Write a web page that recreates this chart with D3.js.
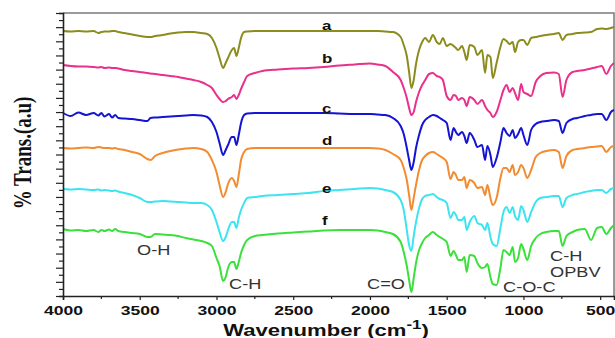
<!DOCTYPE html>
<html>
<head>
<meta charset="utf-8">
<script src="https://cdn.jsdelivr.net/npm/d3@7"></script>
<style>
  html, body { margin: 0; padding: 0; background: #fff; }
  svg { display: block; }
</style>
</head>
<body>
<svg id="chart" width="615" height="338"></svg>
<script>
// shared wavenumber grid (cm-1), high to low
const wavenumbers = [
  4000, 3950, 3900, 3850, 3800, 3770, 3750, 3730, 3700, 3680,
  3660, 3640, 3600, 3550, 3500, 3450, 3430, 3400, 3350, 3300,
  3250, 3200, 3150, 3100, 3060, 3030, 3000, 2980, 2957, 2940,
  2925, 2900, 2885, 2870, 2855, 2840, 2820, 2800, 2750, 2700,
  2600, 2500, 2400, 2300, 2200, 2100, 2000, 1950, 1900, 1850,
  1800, 1780, 1760, 1745, 1730, 1715, 1700, 1680, 1660, 1640,
  1615, 1590, 1565, 1545, 1525, 1500, 1475, 1455, 1440, 1425,
  1400, 1385, 1370, 1350, 1320, 1300, 1270, 1250, 1235, 1215,
  1200, 1175, 1150, 1130, 1110, 1090, 1070, 1055, 1035, 1015,
  1000, 975, 950, 920, 890, 850, 800, 770, 745, 720,
  680, 650, 600, 560, 520, 490, 460, 430, 410
];

// % transmittance, arbitrary units (stacked, offset traces)
const traceA = [
  265, 264.5, 265, 264.5, 265, 263, 264, 264.5, 264.5, 265,
  265, 264, 263, 261.5, 260, 259, 259, 260, 261, 262.5,
  263.5, 264, 264, 263, 262, 258, 248, 238, 228, 233,
  238, 246, 248, 240, 248, 258, 264, 264.5, 265, 265,
  265, 265, 265, 265, 265, 265, 265, 265, 264.5, 264,
  259, 251, 240, 224, 208, 216, 232, 246, 254, 258,
  254, 261, 254, 252, 258, 250, 252, 250, 248, 246,
  250, 244, 236, 251, 249, 241, 246, 223, 241, 239,
  218, 233, 249, 257, 255, 252, 254, 244, 254, 256,
  256, 251, 258, 259, 260, 261, 262, 263, 256, 261,
  262, 263, 263.5, 264, 267, 267.5, 267, 268, 269
];
const traceB = [
  231, 230, 229.5, 229.5, 229, 228.5, 229, 228, 228.5, 228,
  228, 227.5, 226, 225, 224, 223, 222.5, 222, 221, 220,
  219, 217.5, 216, 214, 211, 208, 201, 197, 194, 195,
  197, 199, 201, 197, 201, 207, 214, 220, 223, 225,
  226.5, 227.5, 228, 229, 230.5, 231.5, 232.5, 231.5, 230, 224,
  216, 208, 198, 188, 181, 184, 194, 204, 211, 216,
  222, 223, 220, 219, 216, 200, 196, 201, 200, 196,
  198, 196, 190, 199, 196, 192, 196, 190, 186, 183,
  179, 184, 196, 206, 211, 204, 208, 203, 196, 212,
  204, 202, 200, 214, 220, 223, 223.5, 222, 199, 216,
  224, 225, 226, 227.5, 229, 230, 222, 230, 233
];
const traceC = [
  183, 180, 183.5, 181, 183, 180.5, 183, 179.5, 182, 178.5,
  181, 178, 177.5, 177, 176, 175, 178, 178.5, 179, 179.5,
  180, 180.5, 181, 180.5, 179, 174, 164, 153, 141, 146,
  151, 159, 159, 151, 161, 173, 181, 182.5, 183, 183,
  183, 183, 183, 183, 182.5, 182, 182, 181.5, 181, 178,
  170, 162, 148, 136, 126, 134, 148, 161, 171, 176,
  179, 181, 180, 178, 176, 173, 156, 168, 164, 161,
  164, 160, 153, 163, 156, 149, 151, 136, 150, 141,
  129, 138, 154, 168, 163, 160, 166, 158, 162, 168,
  161, 151, 166, 172, 174, 175, 176, 175, 163, 173,
  177, 178, 180, 181, 182, 182, 176, 184, 186
];
const traceD = [
  148, 147.5, 148, 148.5, 148, 149, 148.5, 148, 148, 147.5,
  148, 147, 146, 144, 142, 137, 136, 140, 143, 145,
  146.5, 147.5, 148, 147, 144, 136, 124, 111, 99, 104,
  112, 118, 115, 109, 121, 136, 144, 147, 148, 148,
  148, 148, 148, 148, 148, 148, 148, 147.5, 146, 142,
  136, 128, 116, 101, 86, 98, 111, 126, 136, 140,
  143, 144, 142, 140, 138, 134, 117, 124, 121, 116,
  116, 119, 108, 116, 113, 108, 109, 101, 111, 98,
  91, 98, 118, 128, 128, 124, 131, 121, 124, 131,
  128, 118, 126, 139, 143, 145, 146, 144, 128, 140,
  146, 147, 148, 149, 149.5, 150, 144, 149, 150
];
const traceE = [
  107, 106.5, 107, 106.5, 106, 106.5, 105.5, 106, 105.5, 105,
  105.5, 104.5, 103, 101, 98, 94, 94, 94.5, 95, 94.5,
  94, 93.5, 93, 93, 91, 86, 74, 64, 55, 59,
  66, 74, 74, 68, 78, 86, 93, 98, 99, 100,
  101, 102, 103, 105, 106, 107, 108, 107.5, 106, 104,
  96, 86, 66, 51, 45, 60, 74, 88, 97, 100,
  101, 102, 99, 97, 96, 93, 78, 84, 81, 76,
  76, 79, 66, 74, 80, 73, 71, 66, 73, 59,
  52, 50, 68, 84, 89, 83, 89, 80, 76, 90,
  86, 74, 84, 94, 98, 99, 100, 100, 89, 98,
  101, 102, 104, 105, 106, 106, 103, 107, 108
];
const traceF = [
  67, 65.5, 66, 65, 66, 64, 66, 65, 66.5, 65,
  67, 65, 64, 63, 62, 59, 59, 62, 61.5, 61,
  60, 58, 56.5, 55, 53, 50, 38, 30, 15, 19,
  28, 34, 34, 27, 34, 43, 51, 56, 60, 61,
  62.5, 63.5, 64.5, 65.5, 66, 66, 66, 65.5, 64, 62,
  54, 44, 30, 16, 4, 18, 33, 46, 53, 58,
  61, 64, 61, 59, 57, 54, 40, 45, 41, 36,
  36, 39, 24, 41, 40, 33, 28, 29, 32, 19,
  12, 11, 28, 46, 44, 41, 49, 34, 38, 52,
  47, 36, 50, 58, 62, 64, 65, 65, 50, 60,
  64, 66, 67, 56, 68, 69, 62, 68, 71
];

const traceNames = ['a', 'b', 'c', 'd', 'e', 'f'];
const traceColors = ['#8c8c1e', '#e8308c', '#1414d2', '#f28c32', '#3ce4f0', '#3ce03c'];
const traceValues = [traceA, traceB, traceC, traceD, traceE, traceF];

const xMajorTicks = [4000, 3500, 3000, 2500, 2000, 1500, 1000, 500];
const xMinorTicks = [3750, 3250, 2750, 2250, 1750, 1250, 750];

const annotations = [
  { text: 'O-H', x: 137, y: 255 },
  { text: 'C-H', x: 229, y: 289 },
  { text: 'C=O', x: 367, y: 289 },
  { text: 'C-O-C', x: 503, y: 292 },
  { text: 'C-H', x: 550, y: 261 },
  { text: 'OPBV', x: 550, y: 277 }
];
const labelBaselines = [30, 63, 113, 145, 193, 225];

const plotLeft = 63, plotRight = 614, plotTop = 13, plotBottom = 296;
const STRETCH = 1.3; // picture is wider than its glyphs

const svg = d3.select('#chart');

const x = d3.scaleLinear().domain([4000, 410]).range([plotLeft, plotRight]);
const y = d3.scaleLinear().domain([0, 283]).range([plotBottom, plotTop]);

// frame (top and right)
svg.append('path')
  .attr('d', `M${plotLeft},${plotTop}H${plotRight}V${plotBottom}`)
  .attr('fill', 'none')
  .attr('stroke', '#7a7a7a')
  .attr('stroke-width', 1.5);

// traces
const line = d3.line()
  .x(d => x(d[0]))
  .y(d => y(d[1]))
  .curve(d3.curveMonotoneX);

traceValues.forEach((vals, i) => {
  const pts = wavenumbers.map((w, j) => [w, vals[j]]);
  svg.append('path')
    .datum(pts)
    .attr('fill', 'none')
    .attr('stroke', traceColors[i])
    .attr('stroke-width', 2)
    .attr('stroke-linejoin', 'round')
    .attr('d', line);
});

// y axis: unlabeled ticks
const yTicks = d3.range(0, 41).map(i => i * 283 / 40);
const yAxis = svg.append('g')
  .attr('transform', `translate(${plotLeft},0)`)
  .call(d3.axisLeft(y).tickValues(yTicks).tickSize(4).tickFormat(''));
yAxis.selectAll('.tick line')
  .attr('x2', (d, i) => i % 2 === 0 ? -7 : -4)
  .attr('stroke', '#222')
  .attr('stroke-width', 1.2);
yAxis.select('.domain').attr('stroke', '#222').attr('stroke-width', 1.6);

// x axis
const xAxis = svg.append('g')
  .attr('transform', `translate(0,${plotBottom})`)
  .call(d3.axisBottom(x).tickValues(xMajorTicks).tickSize(4).tickPadding(5).tickFormat(d3.format('d')));
xAxis.select('.domain').attr('stroke', '#222').attr('stroke-width', 1.6);
xAxis.selectAll('.tick line').attr('stroke', '#222').attr('stroke-width', 1.2);
xAxis.selectAll('.tick text')
  .attr('fill', '#111')
  .style('font-family', 'Liberation Sans, Arial, sans-serif')
  .style('font-weight', 'bold')
  .style('font-size', '13.5px')
  .attr('transform', `scale(${STRETCH},1)`);

svg.append('g')
  .attr('transform', `translate(0,${plotBottom})`)
  .selectAll('line')
  .data(xMinorTicks)
  .join('line')
  .attr('x1', d => x(d)).attr('x2', d => x(d))
  .attr('y1', 0).attr('y2', 3)
  .attr('stroke', '#222')
  .attr('stroke-width', 1.2);

// x label
const xLabel = svg.append('text')
  .attr('transform', `translate(326,336) scale(${STRETCH},1)`)
  .attr('text-anchor', 'middle')
  .attr('fill', '#111')
  .style('font-family', 'Liberation Sans, Arial, sans-serif')
  .style('font-weight', 'bold')
  .style('font-size', '17px');
xLabel.append('tspan').text('Wavenumber (cm');
xLabel.append('tspan').text('-1').attr('dy', -7).style('font-size', '13px');
xLabel.append('tspan').text(')').attr('dy', 7);

// y label
svg.append('text')
  .attr('transform', `translate(31,153) scale(${STRETCH},1) rotate(-90)`)
  .attr('text-anchor', 'middle')
  .attr('fill', '#111')
  .style('font-family', 'Liberation Serif, Times New Roman, serif')
  .style('font-weight', 'bold')
  .style('font-size', '19px')
  .text('% Trans.(a.u)');

// trace letters
svg.selectAll('text.trace-label')
  .data(traceNames)
  .join('text')
  .attr('class', 'trace-label')
  .attr('transform', (d, i) => `translate(322,${labelBaselines[i]}) scale(${STRETCH},1)`)
  .attr('fill', '#111')
  .style('font-family', 'Liberation Sans, Arial, sans-serif')
  .style('font-weight', 'bold')
  .style('font-size', '13px')
  .text(d => d);

// band assignments
svg.selectAll('text.band')
  .data(annotations)
  .join('text')
  .attr('class', 'band')
  .attr('transform', d => `translate(${d.x},${d.y}) scale(${STRETCH},1)`)
  .attr('fill', '#333')
  .style('font-family', 'Liberation Sans, Arial, sans-serif')
  .style('font-size', '14px')
  .text(d => d.text);
</script>
</body>
</html>
